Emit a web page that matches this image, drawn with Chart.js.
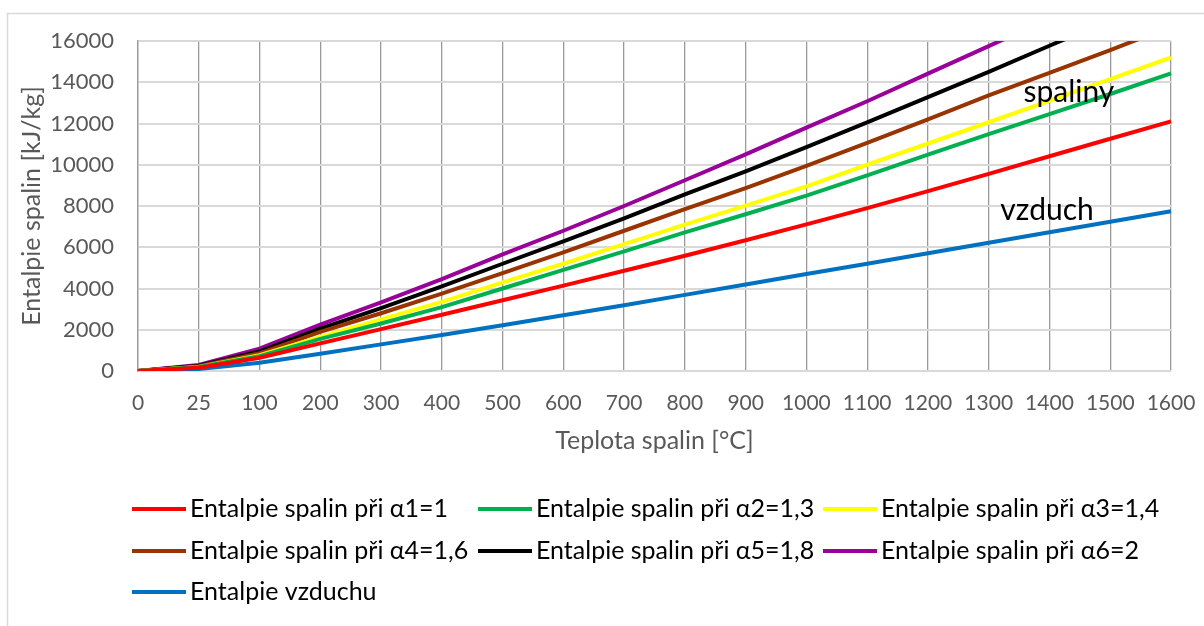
<!DOCTYPE html>
<html><head><meta charset="utf-8">
<script src="https://cdn.jsdelivr.net/npm/chart.js@4.4.1/dist/chart.umd.min.js"></script>
<style>html,body{margin:0;padding:0;background:#fff;}#wrap{position:relative;width:1204px;height:626px;}</style>
</head><body><div id="wrap"><canvas id="c" width="1204" height="626"></canvas></div>
<script>
const categories = ['0','25','100','200','300','400','500','600','700','800','900','1000','1100','1200','1300','1400','1500','1600'];
const seriesNames = ['Entalpie spalin při α1=1','Entalpie spalin při α2=1,3','Entalpie spalin při α3=1,4','Entalpie spalin při α4=1,6','Entalpie spalin při α5=1,8','Entalpie spalin při α6=2','Entalpie vzduchu'];
const alpha1 = [0,160,640,1340,2030,2730,3430,4140,4860,5590,6340,7110,7900,8720,9560,10410,11260,12100];
const alpha2 = [0,190,720,1560,2300,3100,4000,4900,5800,6720,7600,8500,9480,10490,11480,12450,13430,14430];
const alpha3 = [0,200,770,1650,2500,3350,4300,5200,6150,7100,8020,8950,10000,11030,12060,13100,14150,15200];
const alpha4 = [0,230,860,1900,2800,3750,4750,5750,6800,7850,8870,9950,11060,12200,13360,14460,15560,16700];
const alpha5 = [0,260,950,2050,3050,4100,5200,6280,7400,8560,9680,10850,12050,13280,14500,15770,17020,18300];
const alpha6 = [0,290,1080,2250,3330,4450,5650,6800,8000,9250,10500,11800,13080,14420,15750,17100,18450,19800];
const vzduch = [0,100,400,840,1290,1750,2220,2700,3190,3690,4190,4700,5200,5710,6220,6730,7240,7750];
const yTicks = [0,2000,4000,6000,8000,10000,12000,14000,16000];
const colors = ['#FF0000','#00B050','#FFFF00','#993300','#000000','#990099','#0070C0'];
const allSeries = [alpha1,alpha2,alpha3,alpha4,alpha5,alpha6,vzduch];

const FONT = 'Lato';
const GRAY = '#595959';

const framePlugin = {
  id: 'frame',
  beforeDraw(chart) {
    const ctx = chart.ctx;
    ctx.save();
    ctx.fillStyle = '#fff';
    ctx.fillRect(0,0,chart.width,chart.height);
    ctx.strokeStyle = '#d9d9d9';
    ctx.lineWidth = 1.5;
    ctx.strokeRect(7.5, 13.5, 1400, 800);
    ctx.restore();
  }
};

const legendPlugin = {
  id: 'gridLegend',
  afterDraw(chart) {
    const ctx = chart.ctx;
    const colX = [132, 478, 823];
    const rowY = [509, 551, 592];
    ctx.save();
    ctx.font = '25px ' + FONT;
    ctx.textBaseline = 'middle';
    ctx.textAlign = 'left';
    chart.data.datasets.forEach((ds, i) => {
      const x = colX[i % 3], y = rowY[Math.floor(i / 3)];
      ctx.strokeStyle = ds.borderColor;
      ctx.lineWidth = 4;
      ctx.beginPath(); ctx.moveTo(x, y); ctx.lineTo(x + 54, y); ctx.stroke();
      ctx.fillStyle = '#000';
      ctx.fillText(ds.label, x + 58, y);
    });
    const xs = chart.scales.x, ys = chart.scales.y;
    ctx.font = '30px ' + FONT;
    ctx.textAlign = 'center';
    ctx.textBaseline = 'alphabetic';
    ctx.fillText('spaliny', xs.getPixelForValue(15.32), ys.getPixelForValue(13050));
    ctx.fillText('vzduch', xs.getPixelForValue(14.96), ys.getPixelForValue(7320));
    ctx.restore();
  }
};

new Chart(document.getElementById('c'), {
  type: 'line',
  data: {
    labels: categories,
    datasets: allSeries.map((d, i) => ({
      label: seriesNames[i], data: d, borderColor: colors[i], backgroundColor: colors[i],
      borderWidth: 4, pointRadius: 0, tension: 0, fill: false
    }))
  },
  options: {
    responsive: false, animation: false, devicePixelRatio: 1,
    layout: { padding: { left: 10, top: 41, right: 33, bottom: 145 } },
    plugins: { legend: { display: false }, tooltip: { enabled: false } },
    scales: {
      x: {
        type: 'category', offset: false,
        grid: { color: '#9a9a9a', lineWidth: 1.3, drawTicks: false },
        border: { color: '#d9d9d9', width: 2 },
        ticks: { color: GRAY, font: { family: FONT, size: 21 }, padding: 20, maxRotation: 0, autoSkip: false },
        title: { display: true, text: 'Teplota spalin [°C]', color: GRAY, font: { family: FONT, size: 25 }, padding: { top: 0, bottom: 25 } },
        afterFit(s) { s.height = 110; s.paddingLeft = 0; s.paddingRight = 0; }
      },
      y: {
        min: 0, max: 16000,
        afterBuildTicks(s) { s.ticks = yTicks.map(v => ({ value: v })); },
        grid: { color: '#d9d9d9', lineWidth: 2, drawTicks: false },
        border: { color: '#9a9a9a', width: 1.3 },
        ticks: { color: GRAY, font: { family: FONT, size: 22 }, padding: 24, callback: v => String(v) },
        title: { display: true, text: 'Entalpie spalin [kJ/kg]', color: GRAY, font: { family: FONT, size: 25 }, padding: { top: 7, bottom: 0 } },
        afterFit(s) { s.width = 128; s.paddingTop = 0; s.paddingBottom = 0; }
      }
    }
  },
  plugins: [framePlugin, legendPlugin]
});
</script></body></html>
